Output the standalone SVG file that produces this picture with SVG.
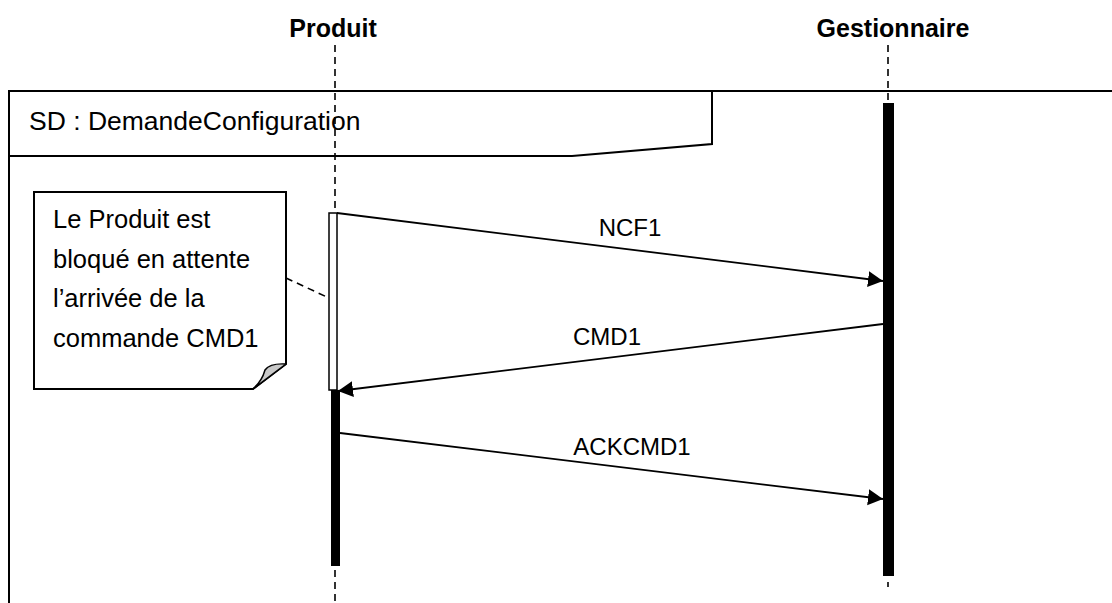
<svg xmlns="http://www.w3.org/2000/svg" width="1112" height="603" viewBox="0 0 1112 603">
<style>
  .t { font-family: "Liberation Sans", Arial, sans-serif; fill: #000; }
  .hdr { font-weight: bold; font-size: 25px; }
  .lbl { font-size: 24px; }
  .note { font-size: 25.5px; }
  .frame { fill: none; stroke: #000; stroke-width: 2; }
  .life { fill: none; stroke: #000; stroke-width: 1.6; stroke-dasharray: 7 5; }
  .msg { fill: none; stroke: #000; stroke-width: 1.8; }
</style>
<defs>
  <marker id="arr" markerUnits="userSpaceOnUse" markerWidth="16" markerHeight="18" refX="15" refY="9" orient="auto">
    <path d="M0,1 L15,9 L0,17 Z" fill="#000"/>
  </marker>
</defs>
<rect width="1112" height="603" fill="#fff"/>

<g id="frame">
  <path class="frame" d="M9,603 L9,91 L1112,91"/>
  <path class="frame" d="M712,91 L712,144 L572,156 L9,156"/>
  <text class="t" x="29" y="130" font-size="26.5">SD : DemandeConfiguration</text>
</g>

<g id="produit">
  <text class="t hdr" x="333" y="37" text-anchor="middle">Produit</text>
  <line class="life" x1="335" y1="45" x2="335" y2="213"/>
  <line class="life" x1="335" y1="570" x2="335" y2="603"/>
  <rect x="329" y="213" width="8" height="177" fill="#fff" stroke="#000" stroke-width="1.5"/>
  <rect x="331" y="390" width="9" height="176" fill="#000"/>
</g>

<g id="gestionnaire">
  <text class="t hdr" x="893" y="37" text-anchor="middle">Gestionnaire</text>
  <line class="life" x1="888" y1="45" x2="888" y2="103"/>
  <line x1="888" y1="582" x2="888" y2="587" stroke="#000" stroke-width="1.6"/>
  <rect x="883" y="103" width="11" height="473" fill="#000"/>
</g>

<g id="note">
  <path d="M34,192 L286,192 L286,364 L253,389 L34,389 Z" fill="#fff" stroke="#000" stroke-width="2"/>
  <path d="M286,364 Q270,363 265,370 Q262,381 253,389 Z" fill="#c8c8c8" stroke="#000" stroke-width="1.5" stroke-linejoin="round"/>
  <text class="t note" x="53" y="228">Le Produit est</text>
  <text class="t note" x="53" y="268">bloqué en attente</text>
  <text class="t note" x="53" y="307">l’arrivée de la</text>
  <text class="t note" x="53" y="347">commande CMD1</text>
</g>

<g id="connectors">
  <line x1="286" y1="278" x2="329" y2="298" stroke="#000" stroke-width="1.6" stroke-dasharray="7 5"/>
  <line class="msg" x1="337" y1="213" x2="883" y2="281" marker-end="url(#arr)"/>
  <line class="msg" x1="883" y1="324" x2="338" y2="391" marker-end="url(#arr)"/>
  <line class="msg" x1="340" y1="433" x2="883" y2="499" marker-end="url(#arr)"/>
  <text class="t lbl" x="630" y="236" text-anchor="middle">NCF1</text>
  <text class="t lbl" x="607" y="345" text-anchor="middle">CMD1</text>
  <text class="t lbl" x="632" y="455" text-anchor="middle">ACKCMD1</text>
</g>
</svg>
